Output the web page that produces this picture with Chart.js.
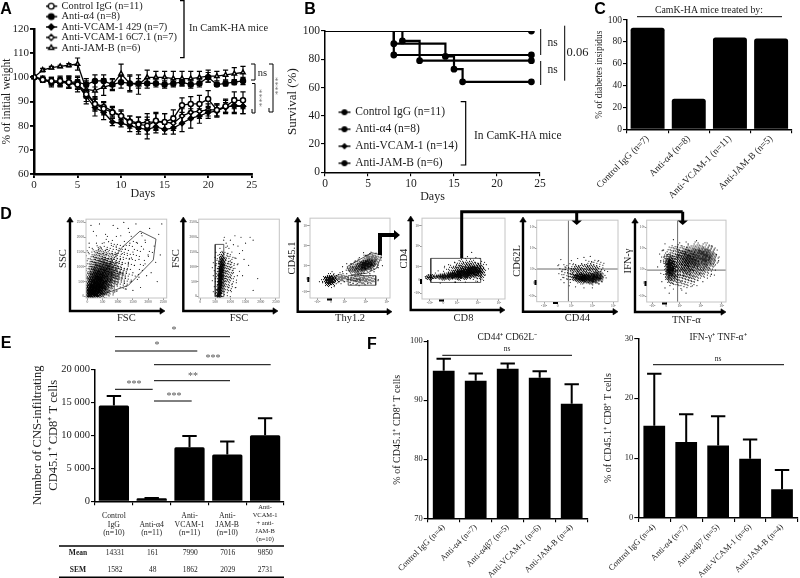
<!DOCTYPE html>
<html><head><meta charset="utf-8">
<script src="https://cdn.jsdelivr.net/npm/chart.js@4"></script>
<style>
html,body{margin:0;padding:0;background:#fff;}
#wrap{position:relative;width:800px;height:578px;overflow:hidden;filter:blur(.35px);}
canvas{position:absolute;}
svg{position:absolute;left:0;top:0;}
svg text{font-family:"Liberation Serif",serif;fill:#1c1c1c;}
</style></head><body><div id="wrap"></div>
<script>
// ---------- Panel A
const daysA=[0,1,2,3,4,5,6,7,8,9,10,11,12,13,14,15,16,17,18,19,20,21,22,23,24];
const aNames=['Control IgG (n=11)','Anti-α4 (n=8)','Anti-VCAM-1 429 (n=7)','Anti-VCAM-1 6C7.1 (n=7)','Anti-JAM-B (n=6)'];
const aControl=[100,99,98.5,98.5,98,97,93,89,87,85.5,84,81.5,80.5,80,82,81.5,83,88.5,89,89,91,86.5,88,90.5,90.5];
const aControlE=[.5,1,1.5,2,2.5,3,3,3,2.5,2,2.5,2.5,3,3.5,3.5,3.5,3.5,3,3,3.5,3.5,2.5,3,3.5,3.5];
const aAlpha4=[100,99,98,98,98,98,97,98.5,98.5,97,98,97.5,97.5,97.5,97.5,97,97.5,98,97,97.5,100,97,97.5,98,98.5];
const aAlpha4E=[.5,1,2,2,2.5,2.5,2.5,2.5,2.5,2,2.5,3,2,2,1.5,1.5,1.5,1.5,1.5,1.5,2,.7,1,1,1.5];
const aV429=[100,99.5,98,98,97.5,97,92,87.5,85.5,81.5,81,80,79,78.5,79.5,78.5,79,81,83,84,85.5,86,88,88,88];
const aV429E=[.5,1,1.5,1.5,2,2,3,3.5,3,1.5,1.5,2.5,2.5,4,2.5,2,2.5,3.5,4,3,2.5,2.5,2.5,3,3];
const aV6C=[100,99,98,98,98,97,94,89,88,86,84,82,81,81.5,81.5,81.5,81,84,85.5,86,86.5,86.5,87.5,88.5,88];
const aV6CE=[.5,1,1,1.5,2,2,2.5,2.5,2,2,2,2,2.5,3.5,3.5,3.5,3,3,3,3,2.5,2.5,2,3,3];
const aJamB=[100,103,104,104.5,105,105.5,95,94.5,96,97,101.5,97.5,97,100,100,100,99.5,99.5,99.5,100,100.5,100.5,101,101.5,102];
const aJamBE=[.5,.7,.5,.5,.7,2.5,3.5,3.5,3.5,2.5,4,3.5,4,3,2.5,2.5,3,3,3,2.5,2.5,2,2,2.5,2.5];
// ---------- Panel B
const bNames=['Control IgG (n=11)','Anti-α4 (n=8)','Anti-VCAM-1 (n=14)','Anti-JAM-B (n=6)'];
const bControlX=[0,8,14,15,16,24],bControlY=[100,91,82,73,64,64];
const bAlpha4X=[0,24],bAlpha4Y=[100,100];
const bVcamX=[0,9,11,24],bVcamY=[100,93,79,79];
const bJamX=[0,8,24],bJamY=[100,83,83];
// ---------- Panel C
const cLabels=['Control IgG (n=7)','Anti-α4 (n=8)','Anti-VCAM-1 (n=11)','Anti-JAM-B (n=5)'];
const cValues=[93,28,84,83];
// ---------- Panel E
const eLabels=[['','Control','IgG','(n=10)'],['','','Anti-α4','(n=11)'],['','Anti-','VCAM-1','(n=11)'],['','Anti-','JAM-B','(n=10)'],['Anti-','VCAM-1','+ anti-','JAM-B','(n=10)']];
const eValues=[14500,450,8200,7100,10000];
const eTops=[15950,500,9900,9050,12600];
const eMean=['14331','161','7990','7016','9850'];
const eSem=['1582','48','1862','2029','2731'];
// ---------- Panel F
const fLabels=['Control IgG (n=4)','Anti-α4 (n=7)','Anti-α4β7 (n=5)','Anti-VCAM-1 (n=6)','Anti-JAM-B (n=4)'];
const f1Values=[95,93.3,95.3,93.8,89.4];
const f1Tops=[97,94.5,96.2,94.9,92.7];
const f2Values=[15.4,12.7,12.1,9.9,4.8];
const f2Tops=[24.1,17.3,17,13.1,8];
// ---------- Panel D: density clouds [x,y,rx,ry,alpha] and stray events [x,y]
const scatterTicks=[0,500,1000,1500,2000,2500];
const logTicks=[1.7,2.35,3,4,5];
const logLabels=['-10²','0','10³','10⁴','10⁵'];
const d1Clouds=[[120,120,6,7,1],[250,260,8,9,.9],[320,450,10,12,.95],[520,720,12,13,.65],[720,800,14,12,.35],[420,1020,12,15,.38],[1000,600,13,11,.18],[720,1320,17,14,.13],[1250,1300,22,20,.05],[500,200,10,6,.45]];
const d1Dots=[[1500,1500],[1700,1250],[1900,1100],[2200,1700],[2350,2100],[1800,2050],[1400,1800],[1100,2050],[850,2400],[600,2100],[300,1800],[150,1500],[200,2200],[1000,2300],[1350,2300],[1600,2450],[2050,2300],[2400,1400],[2100,800],[1700,650],[1450,500],[1300,900],[1550,1050],[1850,1600],[2000,1400],[950,1700],[700,1850],[450,1650],[250,1250],[80,900],[60,1800],[1250,1600],[1150,1450],[1500,800],[1650,1800],[2250,1150],[1950,700],[1750,300],[2300,500],[1250,250],[900,150],[1500,200],[400,2450],[120,2400],[1200,2500],[2450,2450],[1000,1150],[1350,1150],[850,1000],[1100,800],[950,1450],[600,1550],[300,2050],[1450,1300],[1900,1900]];
const d1Gate=[[307,0],[1349,370],[2171,1232],[2259,1938],[1733,2206],[1130,1646],[526,784],[307,0]];
const d2Clouds=[[620,60,2.5,4,1],[640,220,2.5,6,1],[660,420,2.5,7,1],[675,640,2.5,7,1],[690,860,2.5,7,.98],[705,1080,2.5,6,.8],[720,1300,2.5,6,.5],[800,700,9,17,.32],[820,1150,9,12,.16]];
const d2Dots=[[900,1700],[1000,1900],[1150,2050],[1350,2000],[800,2000],[1250,1700],[1050,1500],[1150,1300],[1250,1100],[1050,1000],[1100,800],[1000,650],[1200,550],[1050,400],[950,300],[1300,850],[1450,1250],[1600,1050],[1900,600],[1750,200],[1400,1550],[920,1350],[860,1800],[780,1900],[1300,1450],[1100,1750],[1500,1800],[1750,1900],[1650,2000],[1000,1200],[950,1100],[1150,950],[1230,700],[900,550],[1000,200],[1180,300],[1400,700]];
const d2Gate=[[500,-10],[782,-10],[782,1758],[500,1758],[500,-10]];
const d3Clouds=[[2.3,2.28,6,5,1],[2.8,2.4,8,4,.45],[4.05,3.05,8,5,1],[3.6,2.85,9,5,.65],[4.3,3.3,7,6,.55],[3.9,2.3,13,4,.42],[3.4,2.3,7,3,.3]];
const d3Dots=[[3.1,2.6],[2.9,2.7],[2.7,2.55],[2.6,2.1],[3.3,3.1],[3.5,3.2],[3.7,3.4],[4,3.5],[4.5,3.3],[4.6,2.9],[4.4,2.7],[4.2,2.6],[3.8,2.6],[3.3,2.05],[3.6,2.1],[4.1,2.1],[4.6,2.3],[4.8,3.0],[3,2.2],[1.9,2.3],[1.8,2.2],[1.95,2.15],[2.75,2.2],[2.9,2.95],[3.1,3.1],[4.2,3.6],[3.9,3.65],[4.75,3.4],[2.4,2.7],[2.5,1.95]];
const d3GateA=[[3.12,2.95],[4.29,3.65],[4.76,3.53],[4.52,2.87],[4.05,2.62],[3.33,2.54],[3.12,2.95]];
const d3GateB=[[3.17,2.5],[4.48,2.5],[4.48,2.02],[3.17,2.02],[3.17,2.5]];
const d4Clouds=[[1.75,2.5,5,2.5,.75],[2.3,2.52,7,3,.9],[2.85,2.57,8,3.5,1],[3.3,2.65,9,5,1],[3.75,2.78,8,6,1],[3.5,3.0,12,6,.45],[4.1,2.8,5,8,.55],[3.0,2.85,10,5,.3]];
const d4Dots=[[3.2,3.6],[3.5,3.5],[3.7,3.7],[3.9,3.45],[4.1,3.4],[3.1,3.3],[2.9,3.2],[2.6,3.1],[2.4,2.95],[2.1,2.8],[4.4,3.1],[4.35,2.6],[4.5,2.9],[3.4,3.4],[3.6,3.25],[1.55,2.55],[1.5,2.45],[2.2,2.2],[2.9,2.25],[3.4,2.25],[3.9,2.3],[4.2,2.4]];
const d4Gate=[[1.75,2.23],[4.13,2.23],[4.13,3.41],[1.75,3.41],[1.75,2.23]];
const d5Clouds=[[3.85,2.55,10,5,1],[3.4,2.6,8,4.5,.9],[4.25,2.65,6,5,.8],[3.7,2.95,15,6,.38],[3.0,2.85,11,8,.18],[4.0,3.2,10,5,.14]];
const d5Dots=[[2.4,3.2],[2.55,2.9],[2.6,2.6],[2.7,3.1],[2.8,2.5],[2.65,2.35],[3,3.4],[3.3,3.5],[3.6,3.55],[3.9,3.6],[4.3,3.4],[4.5,3.05],[4.6,2.7],[4.45,2.4],[2.9,2.2],[3.2,2.15],[3.6,2.1],[4,2.1],[2.5,3.45],[3.1,3.25]];
const d5QuadV=[[2.86,1.44],[2.86,5.33]],d5QuadH=[[1.35,3.0],[5.22,3.0]];
const d6Clouds=[[2.55,3.1,5,10,1],[2.6,2.65,6,7,.5],[3.85,3.6,15,10,.68],[3.2,3.35,10,10,.55],[3.6,2.95,17,9,.4],[4.4,3.5,7,10,.36],[2.9,3.85,10,6,.28],[2.4,3.5,6,6,.28],[3.2,2.45,12,7,.22]];
const d6Dots=[[2.3,4.2],[2.5,4.05],[2.2,3.9],[2.1,3.4],[2.1,2.8],[2.15,2.4],[2.3,2.1],[2.7,2.05],[3.1,2.0],[3.6,2.2],[4.1,2.4],[4.5,2.75],[4.7,3.2],[4.75,3.7],[4.5,4.1],[4.2,4.25],[3.8,4.35],[3.4,4.2],[3,4.25],[2.7,4.4],[3.3,1.85],[2.5,1.85],[1.95,3.1],[4.85,3.4]];
const d6QuadV=[[2.9,1.43],[2.9,5.33]],d6QuadH=[[1.43,2.95],[5.2,2.95]];

// ---------- helpers
const wrap=document.getElementById('wrap');
const FF='"Liberation Serif"';
Chart.defaults.font.family=FF;
Chart.defaults.color='#1c1c1c';
Chart.defaults.animation=false;
Chart.defaults.responsive=false;
Chart.defaults.devicePixelRatio=1;
Chart.defaults.plugins.legend.display=false;
Chart.defaults.plugins.tooltip.enabled=false;

const errPlugin={id:'errs',beforeDatasetsDraw(ch){
  const c=ch.ctx,ya=ch.scales.y,cap=ch.options.plugins.errs.cap,w=ch.options.plugins.errs.width;
  c.save();c.strokeStyle='#000';c.lineWidth=w;
  ch.data.datasets.forEach((d,i)=>{
    if(!d.errHi)return;
    ch.getDatasetMeta(i).data.forEach((el,k)=>{
      const x=el.x,hi=ya.getPixelForValue(d.errHi[k]),lo=d.errLo?ya.getPixelForValue(d.errLo[k]):ya.getPixelForValue(d.data[k].y??d.data[k]);
      c.beginPath();c.moveTo(x,hi);c.lineTo(x,lo);
      c.moveTo(x-cap,hi);c.lineTo(x+cap,hi);
      if(d.errLo){c.moveTo(x-cap,lo);c.lineTo(x+cap,lo);}
      c.stroke();
    });
  });
  c.restore();
}};
const framePlugin={id:'frame',afterDatasetsDraw(ch){const a=ch.chartArea,c=ch.ctx;c.save();c.strokeStyle='#c4c4c4';c.lineWidth=1;c.strokeRect(a.left,a.top,a.right-a.left,a.bottom-a.top);c.restore();}};
const legendPos={id:'legendPos',afterLayout(ch){const p=ch.options.plugins.legendPos;if(!p||!p.at)return;const L=ch.legend;L.left=p.at[0];L.top=p.at[1];L.right=L.left+L.width;L.bottom=L.top+L.height;}};

function mk(area,left,top,right,bottom,cfg){
  const cv=document.createElement('canvas');
  const W=right-left,H=bottom-top;
  cv.width=W;cv.height=H;cv.style.left=left+'px';cv.style.top=top+'px';
  wrap.appendChild(cv);
  const o=cfg.options=cfg.options||{};
  o.layout={autoPadding:false,padding:{top:area[1]-top,right:right-area[2],left:0,bottom:0}};
  o.scales.x.afterFit=s=>{s.height=bottom-area[3];};
  o.scales.y.afterFit=s=>{s.width=area[0]-left;};
  return new Chart(cv.getContext('2d'),cfg);
}
function glyph(style,fill,r){
  const c=document.createElement('canvas');c.width=14;c.height=10;const g=c.getContext('2d');
  g.strokeStyle='#000';g.lineWidth=1.4;g.beginPath();g.moveTo(1,5);g.lineTo(13,5);g.stroke();
  g.fillStyle=fill;
  Chart.helpers.drawPoint(g,{pointStyle:style,radius:r,rotation:0,borderWidth:1.3},7,5);
  return c;
}
// stippled density image: an ordered-dither texture over a soft shade, so a cloud reads as grains
const softCache={};
function soft(rx,ry,a){
  const k=[rx,ry,a].join();if(softCache[k])return softCache[k];
  const c=document.createElement('canvas');c.width=Math.ceil(rx*3.2)+2;c.height=Math.ceil(ry*3.2)+2;
  const g=c.getContext('2d'),im=g.createImageData(c.width,c.height);
  const cx=c.width/2,cy=c.height/2,ox=rx*17,oy=ry*23;
  for(let y=0;y<c.height;y++)for(let x=0;x<c.width;x++){
    const dx=(x+.5-cx)/rx,dy=(y+.5-cy)/ry,d2=dx*dx+dy*dy;
    const p=a*Math.exp(-d2*d2*.55-d2*.25);
    const t=(v=>v-Math.floor(v))(52.9829189*((v=>v-Math.floor(v))(.06711056*(x+ox)+.00583715*(y+oy))));
    im.data[(y*c.width+x)*4+3]=p>t?240:p*p*170;
  }
  g.putImageData(im,0,0);
  return softCache[k]=c;
}
const pts=(xs,ys)=>xs.map((x,i)=>({x,y:ys[i]}));
const xy=a=>a.map(p=>({x:p[0],y:p[1]}));
const axisStyle=(w)=>({border:{display:true,color:'#000',width:w},grid:{drawOnChartArea:false,color:'#000',lineWidth:w*.75,tickLength:4}});

// ---------- A
const aStyles=[['circle','#fff'],['circle','#000'],['rectRot','#000'],['rectRot','#fff'],['triangle','#fff']];
const aSeries=[[aControl,aControlE],[aAlpha4,aAlpha4E],[aV429,aV429E],[aV6C,aV6CE],[aJamB,aJamBE]];
const aGlyphs=aStyles.map(s=>glyph(s[0],s[1],2.9));
mk([34,29,251.7,174],0,0,270,201,{type:'scatter',
 data:{datasets:aSeries.map((s,i)=>({label:aNames[i],data:pts(daysA,s[0]),showLine:true,borderColor:'#000',borderWidth:1.3,
   pointStyle:aStyles[i][0],pointBackgroundColor:aStyles[i][1],pointBorderColor:'#000',pointBorderWidth:1.5,pointRadius:2.5,
   errHi:s[0].map((v,k)=>v+s[1][k]),errLo:s[0].map((v,k)=>v-s[1][k])}))},
 options:{scales:{
  x:{type:'linear',min:0,max:25,...axisStyle(2.5),ticks:{stepSize:5,font:{size:11},padding:1},title:{display:true,text:'Days',font:{size:12},padding:0}},
  y:{min:60,max:120,...axisStyle(2.5),ticks:{stepSize:10,font:{size:11},padding:1},title:{display:true,text:'% of initial weight',font:{size:11.5},padding:0}}},
  plugins:{errs:{cap:2.6,width:1.2},legendPos:{at:[46,1]},
   legend:{display:true,position:'chartArea',align:'start',labels:{font:{size:10.4},padding:0,usePointStyle:true,boxWidth:10.4,color:'#1c1c1c',
     generateLabels:ch=>ch.data.datasets.map((d,i)=>({text:d.label,pointStyle:aGlyphs[i],datasetIndex:i,lineWidth:0,fontColor:'#1c1c1c'}))}}}},
 plugins:[errPlugin,legendPos]});

// ---------- B
const bSeries=[[bControlX,bControlY],[bAlpha4X,bAlpha4Y],[bVcamX,bVcamY],[bJamX,bJamY]];
const bGlyphs=[0,1,2,3].map(i=>glyph(i==2?'rectRot':'circle','#000',2.3));
mk([325,31,540,172.3],285,10,556,204,{type:'scatter',
 data:{datasets:bSeries.map((s,i)=>({label:bNames[i],data:pts(s[0],s[1]),showLine:true,stepped:'before',borderColor:'#000',borderWidth:2.2,
   pointStyle:'circle',pointBackgroundColor:'#000',pointBorderColor:'#000',pointRadius:c=>c.dataIndex===0?0:2.3}))},
 options:{scales:{
  x:{type:'linear',min:0,max:25,...axisStyle(1.5),ticks:{stepSize:5,font:{size:11.5},padding:1},title:{display:true,text:'Days',font:{size:12},padding:0}},
  y:{min:0,max:100,...axisStyle(1.5),ticks:{stepSize:20,font:{size:11.5},padding:1},title:{display:true,text:'Survival (%)',font:{size:13},padding:0}}},
  plugins:{legendPos:{at:[49,91]},
   legend:{display:true,position:'chartArea',align:'start',labels:{font:{size:11.5},padding:5.5,usePointStyle:true,boxWidth:10,color:'#1c1c1c',
     generateLabels:ch=>ch.data.datasets.map((d,i)=>({text:d.label,pointStyle:bGlyphs[i],datasetIndex:i,lineWidth:0,fontColor:'#1c1c1c'}))}}}},
 plugins:[legendPos]});

// ---------- C
function barChart(area,left,top,right,bottom,labels,vals,tops,bp,yOpts,xFont,yTitle,radius,yTitleFont,tickLabelFont){
 const ds={data:vals,backgroundColor:'#000',barPercentage:bp,categoryPercentage:1,borderRadius:radius||0,borderSkipped:'bottom'};
 if(tops)ds.errHi=tops;
 return mk(area,left,top,right,bottom,{type:'bar',data:{labels,datasets:[ds]},
  options:{scales:{
   x:{...axisStyle(1.5),ticks:xFont,},
   y:{...yOpts,...axisStyle(1.5),ticks:{...yOpts.ticks,font:{size:tickLabelFont},padding:1},title:{display:true,text:yTitle,font:yTitleFont,padding:0}}},
   plugins:{errs:{cap:tops?7.2:0,width:2}}},
  plugins:[errPlugin]});
}
barChart([627,20,791.7,129.3],594,10,798,205,cLabels,cValues,null,.825,{min:0,max:100,ticks:{stepSize:20}},
  {font:{size:9.5},minRotation:45,maxRotation:45,autoSkip:false,padding:0},'% of diabetes insipidus',2.5,{size:9.5},9.5);
// ---------- E
barChart([95,369.3,284,501.3],30,360,290,546,eLabels,eValues,eTops,.8,{min:0,max:20000,ticks:{stepSize:5000,callback:v=>v===0?'0':(v/1000)+' 000'}},
  {font:c=>c.index===4?{size:6.5,lineHeight:'8px'}:{size:7.8,lineHeight:'8.6px'},minRotation:0,maxRotation:0,autoSkip:false,padding:-2},['Number of CNS-infiltrating','CD45.1⁺ CD8⁺ T cells'],1.5,{size:12.5,lineHeight:1.28},10.5);
// ---------- F
const fx={font:{size:8.5},minRotation:45,maxRotation:45,autoSkip:false,padding:0};
barChart([427.7,341,587.7,518.3],391,335,592,578,fLabels,f1Values,f1Tops,.68,{min:70,max:100,ticks:{stepSize:10}},fx,'% of CD45.1⁺ CD8⁺ T cells',0,{size:10},8.5);
barChart([638.3,338.3,798,518],602,332,800,578,fLabels,f2Values,f2Tops,.68,{min:0,max:30,ticks:{stepSize:10}},fx,'% of CD45.1⁺ CD8⁺ T cells',0,{size:10},8.5);

// ---------- D
function flow(area,left,bottom,xr,yr,clouds,dots,lines,log,xT,yT){
 const mkAxis=(r,title)=>{
   const tv=log?logTicks:scatterTicks;
   return {type:'linear',min:r[0],max:r[1],
    afterBuildTicks:s=>{s.ticks=tv.map(v=>({value:v}));},
    border:{display:false},grid:{drawOnChartArea:false,color:'#333',lineWidth:.5,tickLength:2},
    ticks:{font:{size:3.6},color:'#444',padding:0,autoSkip:false,maxRotation:0,minRotation:0,callback:v=>log?logLabels[logTicks.indexOf(v)]:String(v)},
    title:{display:true,text:title,font:{size:10.5},padding:0}};
 };
 const ds=[];
 ds.push({data:xy(clouds),showLine:false,pointRadius:3,clip:0,pointStyle:c=>{const b=clouds[c.dataIndex];return soft(b[2],b[3],b[4]);}});
 ds.push({data:xy(dots),showLine:false,pointRadius:.6,pointStyle:'circle',pointBackgroundColor:'#111',pointBorderWidth:0});
 lines.forEach(l=>ds.push({data:xy(l.p),showLine:true,borderColor:l.c||'#333',borderWidth:l.w||.8,pointRadius:0}));
 return mk(area,left,area[1]-2,Math.ceil(area[2])+4,bottom,{type:'scatter',data:{datasets:ds},
  options:{scales:{x:mkAxis(xr,xT),y:mkAxis(yr,yT)},plugins:{}},plugins:[framePlugin]});
}
const qc='#444';
flow([86,219,166.7,298],57,325,[-44,2612],[-56,2612],d1Clouds,d1Dots,[{p:d1Gate}],false,'FSC','SSC');
flow([198.7,219,279.3,298],170,325,[-44,2612],[-56,2612],d2Clouds,d2Dots,[{p:d2Gate}],false,'FSC','FSC');
flow([310,218,390,298],286,325,[1.35,5.16],[1.38,5.38],d3Clouds,d3Dots,[{p:d3GateA},{p:d3GateB}],true,'Thy1.2','CD45.1');
flow([422,218,505,299],398,325,[1.33,5.29],[1.42,5.38],d4Clouds,d4Dots,[{p:d4Gate}],true,'CD8','CD4');
flow([536.7,220,618,301.7],511,325,[1.35,5.22],[1.44,5.33],d5Clouds,d5Dots,[{p:d5QuadV,c:qc},{p:d5QuadH,c:qc}],true,'CD44','CD62L');
flow([646.7,220,726,302],622,327,[1.43,5.2],[1.43,5.33],d6Clouds,d6Dots,[{p:d6QuadV,c:qc},{p:d6QuadH,c:qc}],true,'TNF-α','IFN-γ');

// ---------- overlay annotations
const NS='http://www.w3.org/2000/svg';
const svg=document.createElementNS(NS,'svg');svg.setAttribute('width',800);svg.setAttribute('height',578);wrap.appendChild(svg);
function el(n,a,t){const e=document.createElementNS(NS,n);for(const k in a)e.setAttribute(k,a[k]);if(t!=null)e.textContent=t;svg.appendChild(e);return e;}
const P=(d,w,c)=>el('path',{d,fill:'none',stroke:c||'#000','stroke-width':w,'stroke-linejoin':'miter'});
const T=(x,y,s,size,o={})=>el('text',{x,y,'font-size':size,'text-anchor':o.a||'middle','dominant-baseline':'central',...(o.rot?{transform:`rotate(${o.rot} ${x} ${y})`}:{}),...(o.fill?{style:'fill:'+o.fill}:{}),...(o.w?{'font-weight':o.w}:{})},s);
const L=(x,y,s)=>el('text',{x,y,'font-size':16,'font-weight':'bold','text-anchor':'middle','dominant-baseline':'central',style:'font-family:"Liberation Sans",sans-serif;fill:#000'},s);
L(6,8,'A');L(310,8,'B');L(600,8,'C');L(6,213,'D');L(6,342,'E');L(372,343,'F');
// A
P('M180 .5H184V57.7H180',1.3);T(189,27,'In CamK-HA mice',10.4,{a:'start'});
P('M251 64H255V80H251',1);T(262.5,72.5,'ns',10.5);
P('M252 83.5H255V113H252V109',1);T(262,98,'****',9,{rot:-90,fill:'#777'});
P('M269 64H273V112H269V108',1);T(277.5,86,'****',9,{rot:-90,fill:'#777'});
// B
P('M540.7 29V55M540.7 61V85M564.7 25.7V80.7',1);
T(552.5,42,'ns',11.5);T(552.5,69,'ns',11.5);T(566.5,52,'0.06',12.5,{a:'start'});
P('M460.7 101.7H465.7V165H460.7',1.2);T(474,135,'In CamK-HA mice',11.5,{a:'start'});
// C
T(709,9,'CamK-HA mice treated by:',9.8);P('M637 16.7H782',1);
// D axes with arrow heads
function axisL(x,yTop,y,xEnd){
  P(`M${x} ${yTop+4}V${y}H${xEnd-4}`,2.4);
  el('path',{d:`M${x-3.2} ${yTop+5}L${x} ${yTop}L${x+3.2} ${yTop+5}Z`,fill:'#000',stroke:'#000','stroke-width':.6});
  el('path',{d:`M${xEnd-5} ${y-3.2}L${xEnd} ${y}L${xEnd-5} ${y+3.2}Z`,fill:'#000',stroke:'#000','stroke-width':.6});
}
axisL(70,217,311,165);axisL(183.3,217,311,278);axisL(297.7,217,311.7,392);axisL(410.7,216,310,505);axisL(523,217,311.7,618);axisL(635,218,312,726);
P('M380 255V235H394',4);el('path',{d:'M394 230L400 235L394 240Z',fill:'#000'});
P('M461.7 258V211.7H682.7M576.7 211.7V221M682.7 211.7V221',3);
el('path',{d:'M571.5 220.5H581.9L576.7 225Z',fill:'#000'});el('path',{d:'M677.5 220.5H687.9L682.7 225Z',fill:'#000'});
// zero-bin bars on the log flow axes
[[307.3,277,2,5],[327,298.5,5,2],[420,279,2,5],[439,299.5,5,2],[534.5,280,2,5],[553,302,5,2],[644.5,281,2,5],[662,302.5,5,2]].forEach(r=>el('rect',{x:r[0],y:r[1],width:r[2],height:r[3],fill:'#000'}));
// E
[[115,230,336.7],[115,197.3,351],[154,270.7,364.7],[154,230,380.7],[115,152.7,389.3],[154,191.7,401]].forEach(l=>P(`M${l[0]} ${l[2]}H${l[1]}`,1));
[[174,329,'*'],[157,344,'*'],[213,357,'***'],[193,375,'**'],[134,383.5,'***'],[174,395,'***']].forEach(s=>T(s[0],s[1],s[2],10,{fill:'#555'}));
P('M59 546H284',1.6);P('M59 577.2H284',1.6);
const eX=[115,152.7,190.3,227.7,265.3];
T(78,552.7,'Mean',7.5,{w:'bold'});T(78,569,'SEM',7.5,{w:'bold'});
eMean.forEach((v,i)=>T(eX[i],552.7,v,7.5));eSem.forEach((v,i)=>T(eX[i],569,v,7.5));
// F
T(507.3,336.7,'CD44⁺ CD62L⁻',9.5);T(507,348.5,'ns',7.5);P('M442.3 355.3H572',1);
T(718,336.7,'IFN-γ⁺ TNF-α⁺',9.5);T(718,358,'ns',7.5);P('M653 364.7H784',1);
</script></body></html>
